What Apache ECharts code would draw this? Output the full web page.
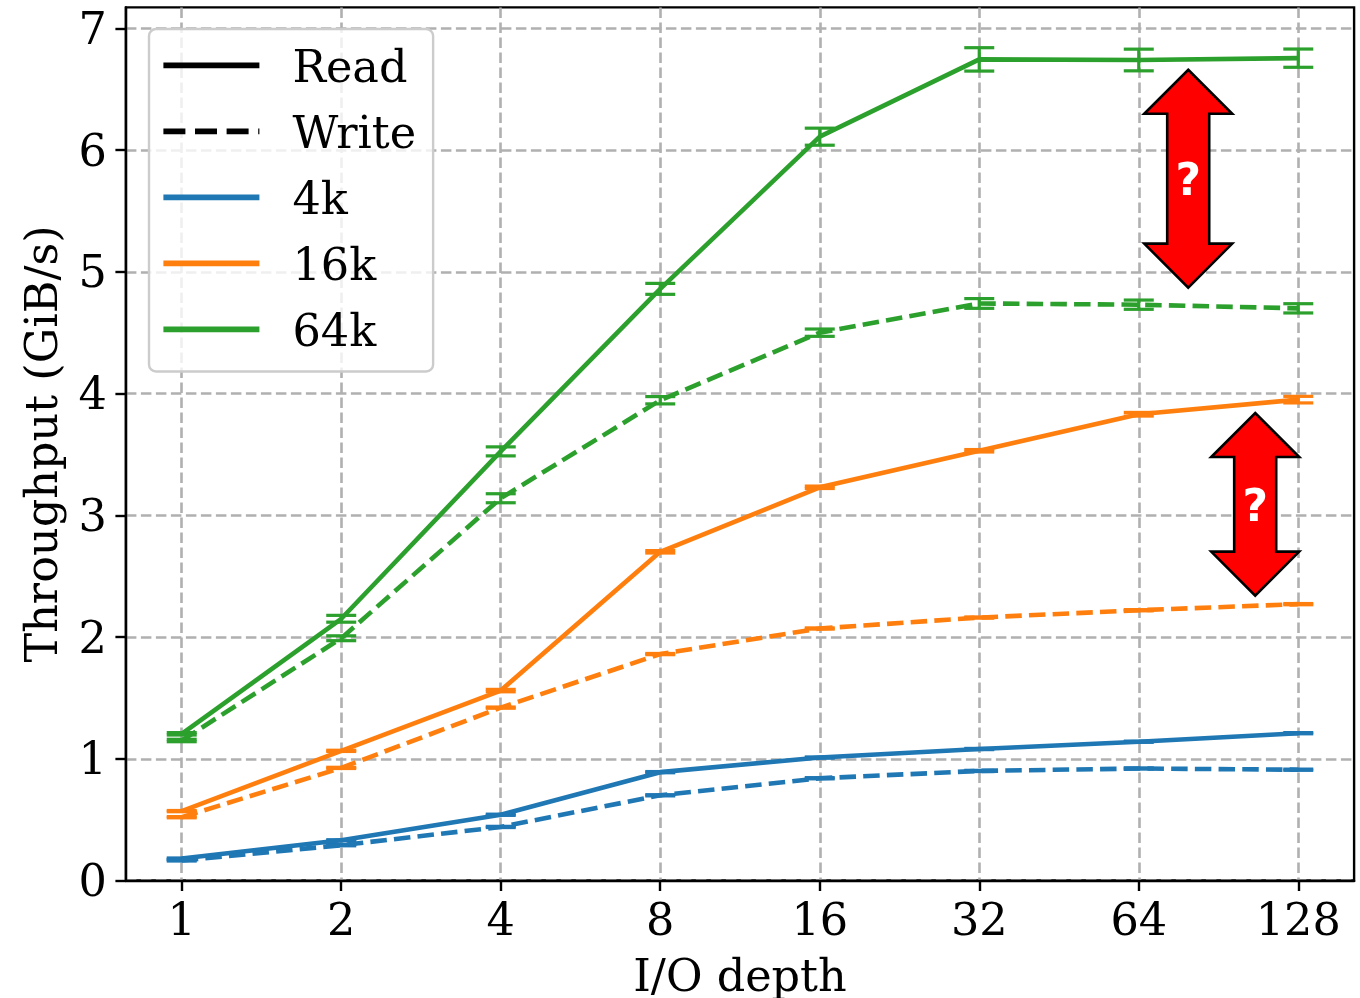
<!DOCTYPE html>
<html>
<head>
<meta charset="utf-8">
<style>html,body{margin:0;padding:0;background:#fff}#c{width:1360px;height:998px}</style>
<script src="https://cdn.jsdelivr.net/npm/echarts@6/dist/echarts.min.js"></script>
</head>
<body>
<div id="c"></div>
<script>
const depths = ['1','2','4','8','16','32','64','128'];
const yTickValues = [0,1,2,3,4,5,6,7];

const read4k  = [0.18,0.33,0.54,0.89,1.01,1.08,1.14,1.21];
const write4k = [0.165,0.29,0.44,0.70,0.84,0.90,0.92,0.91];
const read16k  = [0.57,1.065,1.56,2.70,3.23,3.53,3.83,3.95];
const write16k = [0.52,0.925,1.42,1.86,2.07,2.16,2.22,2.27];
const read64k  = [1.205,2.15,3.525,4.86,6.11,6.745,6.74,6.755];
const write64k = [1.15,1.99,3.14,3.945,4.50,4.74,4.73,4.70];

const errRead4k  = [0.005,0.005,0.005,0.005,0.005,0.005,0.005,0.005];
const errWrite4k = [0.005,0.005,0.005,0.005,0.005,0.005,0.005,0.005];
const errRead16k  = [0.005,0.005,0.01,0.01,0.01,0.01,0.015,0.027];
const errWrite16k = [0.005,0.005,0.005,0.005,0.005,0.005,0.005,0.005];
const errRead64k  = [0.01,0.028,0.037,0.045,0.07,0.096,0.089,0.075];
const errWrite64k = [0.01,0.02,0.037,0.03,0.03,0.04,0.038,0.038];

// double arrows: [x position on the depth axis, y bottom, y top]
const arrows = [[6.31,4.87,6.66],[6.73,2.34,3.84]];

const BLUE='#1f77b4', ORANGE='#ff7f0e', GREEN='#2ca02c';
const FONT='"DejaVu Serif"';
const FS=44.6;
const DASH=[16.5,7.2];

function lineSeries(name,data,color,dashed){
  return {type:'line',name,data:data.map((v,i)=>[i,v]),symbol:'none',z:4,clip:false,
    lineStyle:{color,width:4.6,type:dashed?DASH:'solid',cap:'butt'},itemStyle:{color}};
}
function errSeries(values,errs,color){
  return {type:'custom',silent:true,z:3,clip:false,
    data:values.map((v,i)=>[i,v,errs[i]]),
    encode:{x:0,y:1},
    renderItem(p,api){
      const x=api.value(0),v=api.value(1),e=api.value(2);
      const a=api.coord([x,v+e]),b=api.coord([x,v-e]);
      const st={stroke:color,lineWidth:3.2};
      const seg=(x1,y1,x2,y2)=>({type:'line',shape:{x1,y1,x2,y2},style:st});
      return {type:'group',children:[
        seg(a[0],a[1],b[0],b[1]),
        seg(a[0]-15,a[1],a[0]+15,a[1]),
        seg(b[0]-15,b[1],b[0]+15,b[1])
      ]};
    }};
}
function legendOnly(name,color,type){
  return {type:'line',name,data:[[0,null]],symbol:'none',lineStyle:{color,width:6,type},itemStyle:{color}};
}
const arrowSeries={type:'custom',silent:true,z:6,clip:false,
  data:arrows,encode:{x:0,y:[1,2]},
  renderItem(p,api){
    const t=api.coord([api.value(0),api.value(2)]),b=api.coord([api.value(0),api.value(1)]);
    const cx=t[0],H=44,W=44,S=21;
    const pts=[[cx,t[1]],[cx+W,t[1]+H],[cx+S,t[1]+H],[cx+S,b[1]-H],[cx+W,b[1]-H],[cx,b[1]],
               [cx-W,b[1]-H],[cx-S,b[1]-H],[cx-S,t[1]+H],[cx-W,t[1]+H]];
    return {type:'group',children:[
      {type:'polygon',shape:{points:pts},style:{fill:'#ff0000',stroke:'#000',lineWidth:2.6,lineJoin:'miter'}},
      {type:'text',style:{x:cx,y:(t[1]+b[1])/2+5,text:'?',fill:'#fff',align:'center',verticalAlign:'middle',
        font:'bold 44px "DejaVu Sans"'}}
    ]};
  }};

const chart=echarts.init(document.getElementById('c'),null,{renderer:'canvas'});
chart.setOption({
  animation:false,
  backgroundColor:'#fff',
  grid:{left:125.9,right:5.9,top:7.4,bottom:117.5,outerBoundsMode:'none',containLabel:false,
    show:true,borderColor:'#000',borderWidth:2.4,backgroundColor:'transparent'},
  xAxis:{type:'value',min:-0.35,max:7.35,
    name:'I/O depth',nameLocation:'middle',nameGap:76,
    nameTextStyle:{fontFamily:FONT,fontSize:FS,color:'#000'},
    axisLine:{show:true,onZero:false,lineStyle:{color:'#000',width:2.4}},
    axisTick:{show:true,length:10.5,customValues:depths.map((d,i)=>i),lineStyle:{color:'#000',width:2.4}},
    axisLabel:{fontFamily:FONT,fontSize:FS,color:'#000',margin:20,customValues:depths.map((d,i)=>i),
      formatter:v=>depths[Math.round(v)]},
    splitLine:{show:true,lineStyle:{color:'#b0b0b0',width:2.6,type:[10.5,4.5]}}},
  yAxis:{type:'value',min:0,max:7.172,
    name:'Throughput (GiB/s)',nameLocation:'middle',nameGap:58,nameRotate:90,
    nameTextStyle:{fontFamily:FONT,fontSize:FS,color:'#000'},
    axisLine:{show:true,onZero:false,lineStyle:{color:'#000',width:2.4}},
    axisTick:{show:true,length:10.5,customValues:yTickValues,lineStyle:{color:'#000',width:2.4}},
    axisLabel:{color:'#000',margin:19,customValues:yTickValues,
      formatter:v=>'{t|'+v+'}',
      rich:{t:{fontFamily:FONT,fontSize:FS,color:'#000',padding:[8,0,0,0]}}},
    splitLine:{show:true,lineStyle:{color:'#b0b0b0',width:2.6,type:[10.5,4.5]}}},
  legend:{show:true,orient:'vertical',left:149,top:29,
    padding:[15.6,17,14.6,11.6],itemWidth:96,itemHeight:52,itemGap:17.7,
    backgroundColor:'rgba(255,255,255,0.8)',borderColor:'#cccccc',borderWidth:2.4,borderRadius:7,
    lineStyle:{width:5.6},itemStyle:{opacity:0},
    formatter:n=>'{t|'+n+'}',
    textStyle:{rich:{t:{fontFamily:FONT,fontSize:FS,color:'#000',padding:[10,0,0,28]}}},
    selectedMode:false,
    data:['Read','Write','4k','16k','64k']},
  series:[
    legendOnly('Read','#000','solid'),
    legendOnly('Write','#000',[22,9.6]),
    lineSeries('4k',read4k,BLUE,false),
    lineSeries('4k write',write4k,BLUE,true),
    lineSeries('16k',read16k,ORANGE,false),
    lineSeries('16k write',write16k,ORANGE,true),
    lineSeries('64k',read64k,GREEN,false),
    lineSeries('64k write',write64k,GREEN,true),
    errSeries(read4k,errRead4k,BLUE),
    errSeries(write4k,errWrite4k,BLUE),
    errSeries(read16k,errRead16k,ORANGE),
    errSeries(write16k,errWrite16k,ORANGE),
    errSeries(read64k,errRead64k,GREEN),
    errSeries(write64k,errWrite64k,GREEN),
    arrowSeries
  ]
});
</script>
</body>
</html>
